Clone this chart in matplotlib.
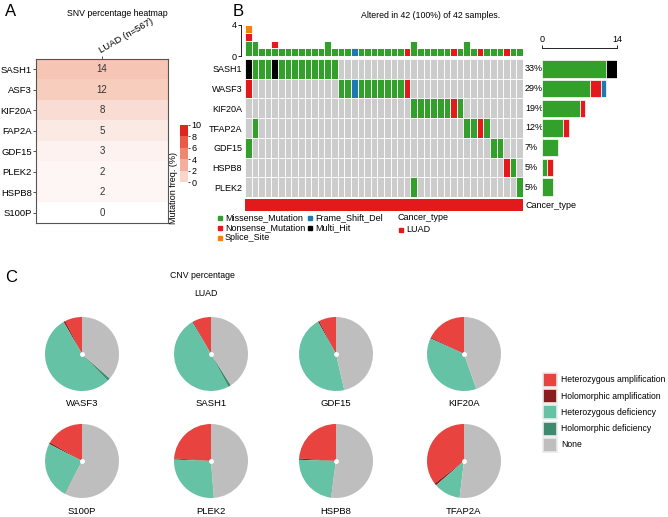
import numpy as np
import matplotlib
matplotlib.use('Agg')
import matplotlib.pyplot as plt
from matplotlib.colors import LinearSegmentedColormap, ListedColormap, BoundaryNorm
from matplotlib.cm import ScalarMappable
from matplotlib.patches import Rectangle

plt.rcParams['font.family'] = ['Liberation Sans', 'DejaVu Sans']

W, H = 668, 517

# ---- Panel A data
snv_genes = ['SASH1', 'ASF3', 'KIF20A', 'FAP2A', 'GDF15', 'PLEK2', 'HSPB8', 'S100P']
snv_values = [14, 12, 8, 5, 3, 2, 2, 0]
snv_column = 'LUAD (n=567)'
cbar_ticks = [0, 2, 4, 6, 8, 10]

# ---- Panel B data (M missense, N nonsense, F frame shift del, X multi hit, . none)
onco_genes = ['SASH1', 'WASF3', 'KIF20A', 'TFAP2A', 'GDF15', 'HSPB8', 'PLEK2']
onco_matrix = [
    'XMMMXMMMMMMMMM' + '.' * 28,
    'N' + '.' * 13 + 'MMFMMMMMMMN' + '.' * 17,
    '.' * 25 + 'MMMMMMNM' + '.' * 9,
    '.M' + '.' * 31 + 'MMNM' + '.' * 5,
    'M' + '.' * 36 + 'MM' + '.' * 3,
    '.' * 39 + 'NM.',
    '.' * 25 + 'M' + '.' * 15 + 'M',
]
top_missense = [2, 2, 1, 1, 1, 1, 1, 1, 1, 1, 1, 1, 2, 1, 1, 1, 0, 1, 1, 1, 1,
                1, 1, 1, 0, 2, 1, 1, 1, 1, 1, 0, 1, 2, 1, 0, 1, 1, 1, 0, 1, 1]
top_nonsense = [1, 0, 0, 0, 1, 0, 0, 0, 0, 0, 0, 0, 0, 0, 0, 0, 0, 0, 0, 0, 0,
                0, 0, 0, 1, 0, 0, 0, 0, 0, 0, 1, 0, 0, 0, 1, 0, 0, 0, 1, 0, 0]
top_splice = [1] + [0] * 41
top_frameshift = [0] * 16 + [1] + [0] * 25
n_samples = 42

# ---- Panel C data
cnv_genes = ['WASF3', 'SASH1', 'GDF15', 'KIF20A', 'S100P', 'PLEK2', 'HSPB8', 'TFAP2A']
het_amp = [7.5, 8.0, 7.5, 17.6, 16.6, 23.9, 23.9, 35.4]
holo_amp = [0.8, 0.4, 0.6, 0.5, 0.8, 0.5, 0.6, 1.0]
het_def = [54.0, 49.4, 45.5, 37.2, 24.7, 26.8, 23.0, 11.7]
holo_def = [1.2, 1.2, 0.0, 0.1, 0.3, 0.1, 0.3, 0.0]
no_cnv = [36.5, 41.0, 46.4, 44.6, 57.6, 48.8, 52.2, 51.9]
cnv_labels = ['Heterozygous amplification', 'Holomorphic amplification',
              'Heterozygous deficiency', 'Holomorphic deficiency', 'None']
cnv_colors = ['#E8433F', '#8A1C1E', '#66C2A5', '#3E8A6E', '#BEBEBE']

green, red, blue, orange = '#33A02C', '#E31A1C', '#1F78B4', '#FF7F00'
mut_colors = {'M': green, 'N': red, 'F': blue, 'X': 'black', 'S': orange, '.': '#CCCCCC'}
FS = 6.3


def px(x0, y0, x1, y1):
    return [x0 / W, 1 - y1 / H, (x1 - x0) / W, (y1 - y0) / H]


fig = plt.figure(figsize=(6.68, 5.17), dpi=100)

# overlay axes in pixel coordinates for free text
ov = fig.add_axes([0, 0, 1, 1], zorder=-1)
ov.set_xlim(0, W)
ov.set_ylim(H, 0)
ov.axis('off')

ov.text(5, 12, 'A', fontsize=12, va='center')
ov.text(233, 11, 'B', fontsize=12, va='center')
ov.text(5, 278, 'C', fontsize=12, va='center')

# ---------------- A: heatmap
axh = fig.add_axes(px(36, 59, 168, 223))
cmap_h = LinearSegmentedColormap.from_list('h', ['#FFFFFF', '#F6C5B4'])
vals = np.array(snv_values, dtype=float).reshape(-1, 1)
axh.imshow(vals, cmap=cmap_h, vmin=0, vmax=14, aspect='auto',
           extent=(0, 1, len(snv_genes), 0))
for i, v in enumerate(snv_values):
    axh.text(0.5, i + 0.5, str(v), ha='center', va='center', fontsize=7, color='#333333')
axh.set_yticks(np.arange(len(snv_genes)) + 0.5, snv_genes)
axh.set_xticks([0.5], [snv_column])
axh.xaxis.tick_top()
plt.setp(axh.get_xticklabels(), rotation=30, ha='left', va='bottom', rotation_mode='anchor')
axh.tick_params(labelsize=6.8, length=2, width=0.6, color='#333333', pad=1)
for s in axh.spines.values():
    s.set_color('#555555')
    s.set_linewidth(0.8)
ov.text(117, 14, 'SNV percentage heatmap', ha='center', va='center', fontsize=FS)

axcb = fig.add_axes(px(180, 125, 188, 182))
cb_cmap = ListedColormap(['#FAD5CA', '#F5AE9D', '#F08670', '#EB5A45', '#E3231D'])
norm = BoundaryNorm(cbar_ticks, cb_cmap.N)
cb = fig.colorbar(ScalarMappable(norm=norm, cmap=cb_cmap), cax=axcb, ticks=cbar_ticks)
cb.outline.set_visible(False)
cb.ax.tick_params(labelsize=6.5, length=1.5, width=0.5, pad=1)
ov.text(173, 188, 'Mutation freq. (%)', rotation=90, ha='center', va='center', fontsize=6.5)

# ---------------- B: oncoplot
axm = fig.add_axes(px(245, 59, 523, 197))
for i, row in enumerate(onco_matrix):
    for j, code in enumerate(row):
        axm.bar(j, 1, bottom=i, width=1, align='edge', color=mut_colors[code],
                edgecolor='white', linewidth=0.6)
axm.set_xlim(0, n_samples)
axm.set_ylim(len(onco_genes), 0)
axm.set_yticks(np.arange(len(onco_genes)) + 0.5, onco_genes)
axm.set_xticks([])
axm.tick_params(length=0, labelsize=6.5, pad=2)
for s in axm.spines.values():
    s.set_visible(False)
for i, row in enumerate(onco_matrix):
    n = sum(c != '.' for c in row)
    axm.text(n_samples + 0.3, i + 0.5, '%d%%' % round(100 * n / n_samples),
             ha='left', va='center', fontsize=6.5)

axt = fig.add_axes(px(245, 25, 523, 56))
cols = np.arange(n_samples)
bottom = np.zeros(n_samples)
for v, c in [(top_missense, green), (top_nonsense, red), (top_splice, orange), (top_frameshift, blue)]:
    v = np.array(v, dtype=float)
    axt.bar(cols, v, bottom=bottom, width=1, align='edge', color=c,
            edgecolor='white', linewidth=0.6)
    bottom += v
axt.set_xlim(0, n_samples)
axt.set_ylim(0, 4)
axt.set_yticks([0, 4])
axt.set_xticks([])
axt.tick_params(labelsize=6.5, length=2, width=0.6, pad=1)
for s in ['top', 'right', 'bottom']:
    axt.spines[s].set_visible(False)
axt.spines['left'].set_position(('outward', 3))
axt.spines['left'].set_linewidth(0.6)
ov.text(431, 15, 'Altered in 42 (100%) of 42 samples.', ha='center', va='center', fontsize=FS)
ov.text(519, 35, 'NA', rotation=90, ha='center', va='center', fontsize=6.5)

axr = fig.add_axes(px(542, 59, 617, 197))
for i, row in enumerate(onco_matrix):
    left = 0
    for code in ['M', 'N', 'F', 'X']:
        n = row.count(code)
        if n:
            axr.barh(i + 0.5, n, left=left, height=0.88, color=mut_colors[code],
                     edgecolor='white', linewidth=0.5)
            left += n
axr.set_xlim(0, 14)
axr.set_ylim(len(onco_genes), 0)
axr.set_yticks([])
axr.xaxis.tick_top()
axr.set_xticks([0, 14])
axr.tick_params(labelsize=6.5, length=2, width=0.6, pad=1)
for s in ['bottom', 'right', 'left']:
    axr.spines[s].set_visible(False)
axr.spines['top'].set_position(('outward', 8))
axr.spines['top'].set_linewidth(0.6)

axc = fig.add_axes(px(245, 199, 523, 211))
axc.bar(0, 1, width=n_samples, align='edge', color=red)
axc.set_xlim(0, n_samples)
axc.set_ylim(0, 1)
axc.axis('off')
ov.text(526, 205, 'Cancer_type', ha='left', va='center', fontsize=6.5)

leg_b = [(220, 218, green, 'Missense_Mutation'), (220, 228, red, 'Nonsense_Mutation'),
         (220, 237.5, orange, 'Splice_Site'), (310, 218, blue, 'Frame_Shift_Del'),
         (310, 228, 'black', 'Multi_Hit'), (401, 230, red, 'LUAD')]
for x, y, c, t in leg_b:
    ov.plot(x, y, 's', color=c, ms=3)
    ov.text(x + 5, y, t, ha='left', va='center', fontsize=6.5)
ov.text(397, 217.5, 'Cancer_type', ha='left', va='center', fontsize=6.5)

# ---------------- C: pies
ov.text(202, 276, 'CNV percentage', ha='center', va='center', fontsize=FS)
ov.text(206, 294, 'LUAD', ha='center', va='center', fontsize=FS)
centers = [(82, 354), (211, 354), (336, 354), (464, 354),
           (82, 461), (211, 461), (336, 461), (464, 461)]
r = 37
for k, g in enumerate(cnv_genes):
    cx, cy = centers[k]
    axp = fig.add_axes(px(cx - r, cy - r, cx + r, cy + r))
    fr = [het_amp[k], holo_amp[k], het_def[k], holo_def[k], no_cnv[k]]
    axp.pie(fr, colors=cnv_colors, startangle=90, counterclock=True,
            wedgeprops=dict(linewidth=0))
    axp.plot(0, 0, 'o', color='white', ms=2.5)
    axp.set_xlim(-1, 1)
    axp.set_ylim(-1, 1)
    axp.axis('off')
    ov.text(cx, cy + 50, g, ha='center', va='center', fontsize=6.8)

for k, (lab, c) in enumerate(zip(cnv_labels, cnv_colors)):
    y = 380 + 16.2 * k
    ov.add_patch(Rectangle((543, y - 7), 14, 14, facecolor=c, edgecolor='#EBEBEB', linewidth=1.2))
    ov.text(561, y, lab, ha='left', va='center', fontsize=6.2)

fig.savefig('out.png', dpi=100)
